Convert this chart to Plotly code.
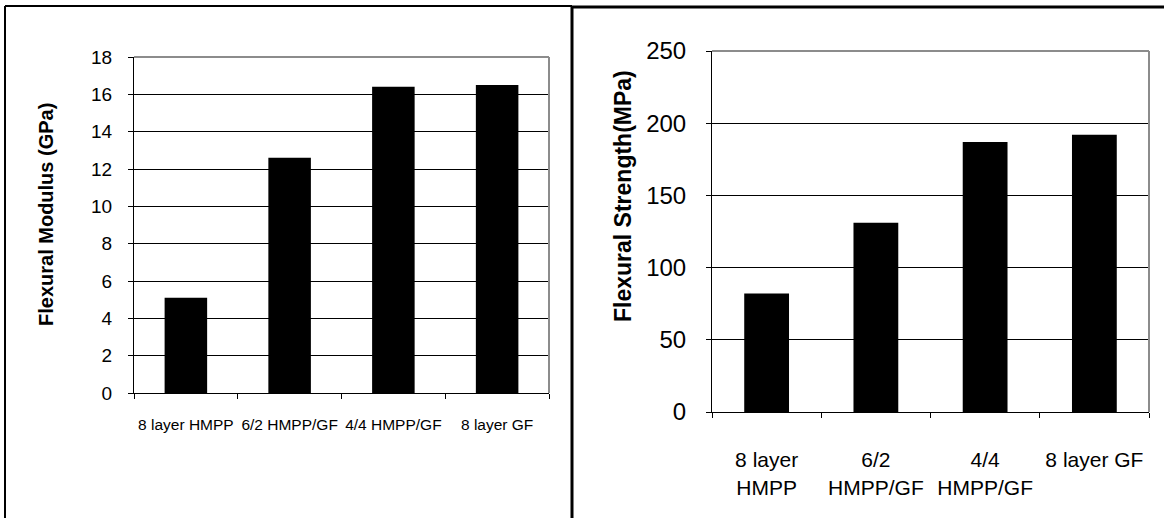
import plotly.graph_objects as go

categories_left = ["8 layer HMPP", "6/2 HMPP/GF", "4/4 HMPP/GF", "8 layer GF"]
modulus_gpa = [5.1, 12.6, 16.4, 16.5]
categories_right = ["8 layer<br>HMPP", "6/2<br>HMPP/GF", "4/4<br>HMPP/GF", "8 layer GF"]
strength_mpa = [82, 131, 187, 192]
left_ticks = [0, 2, 4, 6, 8, 10, 12, 14, 16, 18]
right_ticks = [0, 50, 100, 150, 200, 250]

W, H = 1164, 518
def px(x):
    return x / W
def py(y):
    return 1 - y / H

FONT = "Liberation Sans, Arial, sans-serif"

fig = go.Figure()
fig.add_trace(go.Bar(x=categories_left, y=modulus_gpa, marker=dict(color="black", line=dict(width=0)),
                     xaxis="x", yaxis="y", width=0.41))
fig.add_trace(go.Bar(x=categories_right, y=strength_mpa, marker=dict(color="black", line=dict(width=0)),
                     xaxis="x2", yaxis="y2", width=0.41))

common_x = dict(type="category", tickson="boundaries", ticks="outside", ticklen=5, tickcolor="black",
                showline=True, linecolor="black", linewidth=1, showgrid=False, fixedrange=True,
                automargin=False, tickangle=0)
common_y = dict(ticks="outside", ticklen=5, tickcolor="black", showline=True, linecolor="black",
                linewidth=1, showgrid=True, gridcolor="black", gridwidth=1, zeroline=False, fixedrange=True,
                automargin=False)

fig.update_layout(
    width=W, height=H, margin=dict(l=0, r=0, t=0, b=0),
    paper_bgcolor="white", plot_bgcolor="white", showlegend=False, bargap=0.59,
    font=dict(family=FONT, color="black"),
    xaxis=dict(common_x, domain=[px(134), px(549)], anchor="y",
               tickfont=dict(size=15.5), ticklabelstandoff=17),
    yaxis=dict(common_y, domain=[py(393), py(57)], anchor="x", range=[0, 18],
               tickvals=left_ticks, tickfont=dict(size=19), ticklabelstandoff=12),
    xaxis2=dict(common_x, domain=[px(712), px(1149)], anchor="y2",
                tickfont=dict(size=21), ticklabelstandoff=29),
    yaxis2=dict(common_y, domain=[py(412), py(51)], anchor="x2", range=[0, 250],
                tickvals=right_ticks, tickfont=dict(size=24), ticklabelstandoff=15),
)

shapes = []
# gray frame top/right of plot areas
for x0, x1, y0, y1 in [(134, 549, 57, 393), (712, 1149, 51, 412)]:
    shapes.append(dict(type="line", xref="paper", yref="paper", x0=px(x0), x1=px(x1), y0=py(y0), y1=py(y0),
                       line=dict(color="#8c8c8c", width=2)))
    shapes.append(dict(type="line", xref="paper", yref="paper", x0=px(x1), x1=px(x1), y0=py(y0), y1=py(y1),
                       line=dict(color="#8c8c8c", width=2)))
# panel borders
border = dict(color="black", width=2)
shapes += [
    dict(type="line", xref="paper", yref="paper", x0=px(5), x1=px(5), y0=py(6), y1=py(520), line=border),
    dict(type="line", xref="paper", yref="paper", x0=px(5), x1=px(572), y0=py(6), y1=py(6), line=border),
    dict(type="line", xref="paper", yref="paper", x0=px(572), x1=px(572), y0=py(6), y1=py(520),
         line=dict(color="black", width=3)),
    dict(type="line", xref="paper", yref="paper", x0=px(572), x1=px(1164), y0=py(7), y1=py(7),
         line=dict(color="black", width=3)),
]
fig.update_layout(shapes=shapes)

fig.add_annotation(text="<b>Flexural Modulus (GPa)</b>", textangle=-90, xref="paper", yref="paper",
                   x=px(46), y=py(215), showarrow=False, font=dict(size=20, family=FONT),
                   xanchor="center", yanchor="middle")
fig.add_annotation(text="<b>Flexural Strength(MPa)</b>", textangle=-90, xref="paper", yref="paper",
                   x=px(623), y=py(196), showarrow=False, font=dict(size=23, family=FONT),
                   xanchor="center", yanchor="middle")

fig.write_html("out.html")
